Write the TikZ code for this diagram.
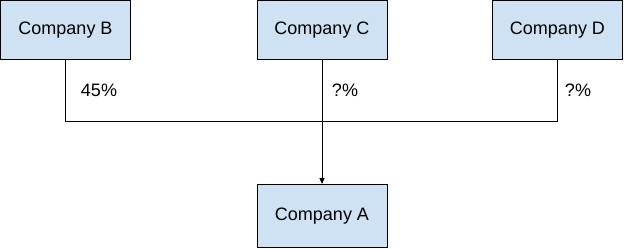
\documentclass[tikz,border=0pt]{standalone}
\usepackage{fontspec}
\setmainfont{Liberation Sans}
\usetikzlibrary{arrows.meta}
\definecolor{boxfill}{HTML}{CFE2F3}
\begin{document}
\begin{tikzpicture}[x=1pt,y=-1pt,
  company/.style={draw=black, fill=boxfill, line width=1pt, minimum width=130pt, minimum height=59pt, inner sep=0pt, font=\fontsize{18}{20}\selectfont},
  pct/.style={font=\fontsize{18}{20}\selectfont, inner sep=0pt},
  conn/.style={draw=black, line width=1pt}]
\useasboundingbox (0,0) rectangle (624,249);
\node[company] (B) at (65.5,30) {Company B};
\node[company] (C) at (322,30) {Company C};
\node[company] (D) at (557.5,30) {Company D};
\node[company, minimum height=63pt] (A) at (322,216) {Company A};
\coordinate (j) at (322,121);
\draw[conn] (B.south) |- (j);
\draw[conn] (D.south) |- (j);
\draw[conn, -{Triangle[length=6pt,width=5pt]}] (C.south) -- (A.north);
\node[pct] (pB) at (99,90) {45\%};
\node[pct] (pC) at (345,90) {?\%};
\node[pct] (pD) at (578,90) {?\%};
\end{tikzpicture}
\end{document}
